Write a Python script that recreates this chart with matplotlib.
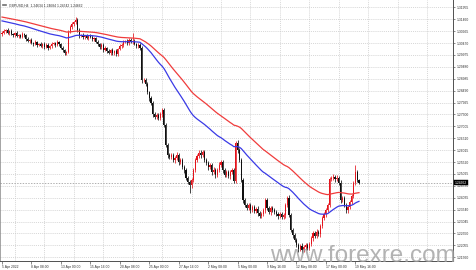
import numpy as np
import matplotlib
matplotlib.use("Agg")
import matplotlib.pyplot as plt

# ---------------- data (GBPUSD, H4) ----------------
first_open = 1.3085
closes = [
    1.3089, 1.3097, 1.3101, 1.3089, 1.3097, 1.3084, 1.3080, 1.3089, 1.3076, 1.3080,
    1.3072, 1.3084, 1.3080, 1.3064, 1.3055, 1.3060, 1.3047, 1.3043, 1.3051, 1.3039,
    1.3043, 1.3035, 1.3043, 1.3030, 1.3039, 1.3026, 1.3035, 1.3043, 1.3047, 1.3039,
    1.3051, 1.3043, 1.3026, 1.3018, 1.3006, 1.3010, 1.3093, 1.3114, 1.3126, 1.3134,
    1.3143, 1.3101, 1.3076, 1.3080, 1.3072, 1.3076, 1.3068, 1.3076, 1.3072, 1.3064,
    1.3068, 1.3051, 1.3043, 1.3030, 1.3039, 1.3018, 1.3026, 1.3014, 1.3006, 1.3018,
    1.3006, 1.3014, 1.3001, 1.3022, 1.3035, 1.3039, 1.3051, 1.3055, 1.3047, 1.3060,
    1.3051, 1.3055, 1.3043, 1.3035, 1.3039, 1.3026, 1.2893, 1.2893, 1.2877, 1.2843,
    1.2818, 1.2797, 1.2752, 1.2739, 1.2748, 1.2735, 1.2752, 1.2768, 1.2706, 1.2623,
    1.2581, 1.2573, 1.2581, 1.2560, 1.2569, 1.2581, 1.2552, 1.2560, 1.2531, 1.2519,
    1.2485, 1.2469, 1.2456, 1.2477, 1.2519, 1.2560, 1.2577, 1.2590, 1.2581, 1.2594,
    1.2560, 1.2548, 1.2531, 1.2540, 1.2510, 1.2519, 1.2498, 1.2519, 1.2540, 1.2552,
    1.2519, 1.2498, 1.2510, 1.2494, 1.2510, 1.2519, 1.2473, 1.2631, 1.2602, 1.2560,
    1.2477, 1.2394, 1.2373, 1.2361, 1.2373, 1.2352, 1.2365, 1.2348, 1.2357, 1.2340,
    1.2327, 1.2336, 1.2352, 1.2394, 1.2361, 1.2344, 1.2361, 1.2352, 1.2344, 1.2336,
    1.2327, 1.2336, 1.2323, 1.2332, 1.2373, 1.2402, 1.2332, 1.2269, 1.2248, 1.2228,
    1.2207, 1.2190, 1.2203, 1.2186, 1.2198, 1.2207, 1.2194, 1.2211, 1.2236, 1.2257,
    1.2244, 1.2261, 1.2253, 1.2286, 1.2319, 1.2336, 1.2352, 1.2373, 1.2481, 1.2486,
    1.2490, 1.2481, 1.2486, 1.2465, 1.2394, 1.2402, 1.2373, 1.2352, 1.2365, 1.2386,
    1.2411, 1.2465, 1.2510, 1.2477, 1.24662,
]
upper_wick_pips = [
    6, 8, 5, 7, 4, 9, 6, 5, 8, 6, 4, 7, 5, 6, 9,
    5, 7, 6, 8, 4, 6, 9, 5, 7, 6, 8, 5, 7, 6, 4,
    8, 6, 5, 7, 6, 5, 8, 7, 9, 6, 14, 10, 8, 6, 7,
    5, 8, 6, 7, 9, 5, 6, 8, 5, 7, 6, 9, 5, 7, 6,
    8, 5, 7, 6, 9, 6, 8, 5, 7, 6, 9, 34, 8, 6, 7,
    6, 10, 9, 7, 8, 6, 9, 7, 10, 8, 9, 6, 8, 7, 9,
    8, 7, 10, 9, 8, 11, 7, 9, 8, 10, 7, 9, 8, 10, 7,
    9, 8, 11, 14, 9, 8, 10, 7, 9, 8, 11, 9, 8, 10, 7,
    9, 8, 10, 7, 9, 8, 7, 10, 12, 8, 9, 10, 8, 9, 7,
    10, 8, 9, 7, 11, 8, 9, 10, 8, 9, 7, 10, 8, 9, 7,
    9, 8, 10, 7, 9, 8, 11, 9, 8, 10, 7, 9, 8, 10, 7,
    9, 8, 10, 7, 9, 8, 11, 9, 8, 10, 7, 9, 8, 10, 9,
    12, 8, 10, 9, 11, 8, 9, 7, 10, 8, 9, 8, 28, 10, 6,
]
lower_wick_pips = [
    7, 5, 8, 6, 9, 5, 7, 6, 4, 8, 6, 5, 9, 7, 5,
    8, 6, 7, 5, 9, 6, 4, 8, 7, 5, 9, 6, 8, 5, 7,
    6, 9, 5, 8, 7, 10, 6, 5, 7, 8, 6, 9, 7, 6, 8,
    7, 5, 9, 6, 8, 7, 5, 9, 6, 8, 7, 5, 9, 6, 8,
    7, 9, 6, 8, 5, 7, 9, 6, 8, 7, 5, 9, 6, 8, 7,
    8, 12, 9, 10, 8, 11, 9, 12, 8, 10, 9, 8, 11, 9, 10,
    12, 9, 10, 8, 11, 9, 12, 10, 8, 11, 9, 10, 34, 11, 9,
    8, 10, 9, 11, 8, 10, 9, 12, 8, 10, 9, 11, 8, 10, 9,
    11, 9, 10, 8, 12, 9, 10, 8, 11, 9, 10, 12, 9, 10, 8,
    11, 9, 10, 8, 12, 9, 10, 8, 11, 9, 10, 12, 9, 10, 8,
    11, 9, 10, 8, 12, 9, 10, 8, 11, 9, 10, 12, 9, 14, 10,
    11, 9, 10, 8, 12, 9, 10, 8, 11, 9, 10, 12, 9, 10, 8,
    9, 11, 8, 10, 12, 9, 10, 14, 11, 9, 10, 8, 9, 10, 7,
]
ma_fast_start = 1.3139   # blue moving average at first bar
ma_slow_start = 1.3155   # red moving average at first bar
ma_fast_span = 49
ma_slow_span = 79

price_ticks = [1.31955, 1.31460, 1.30965, 1.30470, 1.29975, 1.29480, 1.28985,
               1.28490, 1.27995, 1.27500, 1.27005, 1.26510, 1.26015, 1.25520,
               1.25025, 1.24530, 1.24035, 1.23540, 1.23045, 1.22550, 1.22055,
               1.21560]
date_tick_bars = [0, 16, 32, 48, 64, 80, 96, 112, 128, 144, 160, 176, 192]
date_labels = ["5 Apr 2022", "8 Apr 08:00", "13 Apr 00:00", "15 Apr 16:00",
               "20 Apr 08:00", "25 Apr 00:00", "27 Apr 16:00", "2 May 08:00",
               "5 May 00:00", "9 May 16:00", "12 May 08:00", "17 May 00:00",
               "19 May 16:00"]
header = "GBPUSD,H4  1.24634 1.24684 1.24542 1.24662"
last_price_label = "1.24662"
watermark = "www.forexre.com"

# ---------------- derived ----------------
c = np.array(closes)
o = np.concatenate([[first_open], c[:-1]])
h = np.maximum(o, c) + np.array(upper_wick_pips) / 10000.0
l = np.minimum(o, c) - np.array(lower_wick_pips) / 10000.0
x = np.arange(len(c))


def ema(vals, span, start):
    a = 2.0 / (span + 1)
    m = start
    out = []
    for i, v in enumerate(vals):
        if i > 0:
            m = m + a * (v - m)
        out.append(m)
    return np.array(out)


ma_fast = ema(c, ma_fast_span, ma_fast_start)
ma_slow = ema(c, ma_slow_span, ma_slow_start)

# ---------------- figure ----------------
W, H = 476, 270
fig = plt.figure(figsize=(W / 100, H / 100), dpi=100)
ax = fig.add_axes([0.0, 9 / H, 453 / W, 261 / H])
ax.set_facecolor("white")

FS = 2.4
FONT = "Liberation Sans"

ax.set_xlim(-1.09, 245.1)
ax.set_ylim(1.21402, 1.32259)

# grid
grid_kw = dict(color="#c8c8c8", lw=0.5, ls=(0, (1.5, 1.5)), zorder=0)
for p in price_ticks:
    ax.axhline(p, **grid_kw)
for b in date_tick_bars + [208, 224, 240]:
    ax.axvline(b + 7, **grid_kw)

# last price line
ax.axhline(c[-1], color="#909090", lw=0.5, ls=(0, (2, 2)), zorder=1)

# candles
bull = c >= o
cols = np.where(bull, "#e4141c", "#101010")
ax.vlines(x, l, h, colors=cols, lw=0.55, zorder=2)
body = np.where(np.abs(c - o) < 0.00008, 0.00008, c - o)
ax.bar(x, body, bottom=o, width=0.62, color=cols, linewidth=0, zorder=3)

# moving averages
ax.plot(x, ma_slow, color="#f03c3c", lw=0.9, zorder=4)
ax.plot(x, ma_fast, color="#3a3ae6", lw=0.9, zorder=4)

# axes styling
ax.spines["top"].set_visible(False)
ax.spines["left"].set_color("#808080")
ax.spines["left"].set_linewidth(0.5)
ax.spines["right"].set_color("#505050")
ax.spines["right"].set_linewidth(0.7)
ax.spines["bottom"].set_color("#505050")
ax.spines["bottom"].set_linewidth(0.7)

ax.yaxis.tick_right()
ax.set_yticks(price_ticks)
ax.set_yticklabels([f"{p:.5f}" for p in price_ticks], fontsize=FS,
                   family=FONT, color="#303030")
ax.tick_params(axis="y", length=1.5, width=0.4, pad=1.5, colors="#303030")

ax.set_xticks(date_tick_bars)
ax.set_xticklabels(date_labels, fontsize=FS, family=FONT, color="#303030",
                   ha="left")
ax.tick_params(axis="x", length=2, width=0.4, pad=1.2, colors="#303030")

# highlighted last price on the axis
ax.text(1.004, c[-1], last_price_label, transform=ax.get_yaxis_transform(),
        fontsize=FS, family=FONT, color="white", va="center", ha="left",
        bbox=dict(boxstyle="square,pad=0.25", fc="black", ec="black", lw=0.3),
        clip_on=False, zorder=10)

# header text
ax.text(0.019, 0.985, header, transform=ax.transAxes, fontsize=FS,
        family=FONT, color="#303030", va="top", ha="left")
ax.plot([0.006, 0.014], [0.982, 0.982], transform=ax.transAxes,
        color="#707070", lw=1.2)

# watermark
fig.text(456 / W, 8 / H, watermark, fontsize=17.5, family=FONT,
         color="#a0a0a0", alpha=0.8, ha="right", va="baseline", zorder=20)

fig.savefig("out.png", dpi=100, facecolor="white")
